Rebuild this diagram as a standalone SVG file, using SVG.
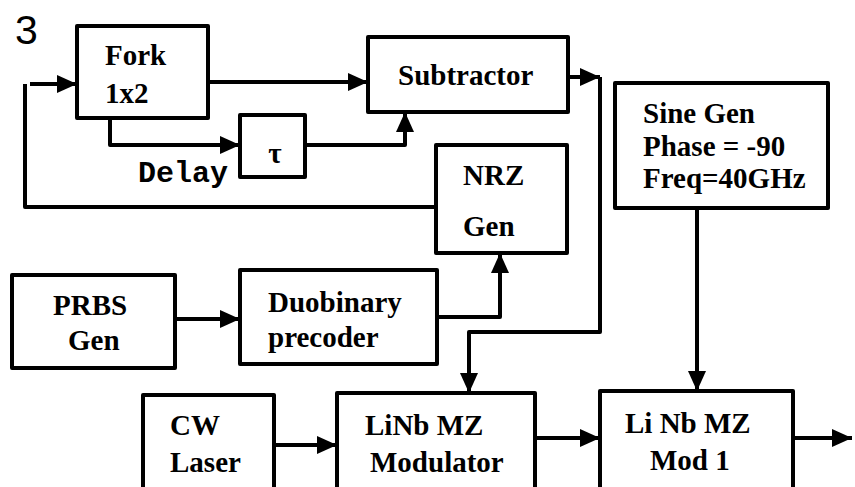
<svg xmlns="http://www.w3.org/2000/svg" width="855" height="487" viewBox="0 0 855 487">
<style>
.box{fill:#fff;stroke:#000;stroke-width:4;stroke-linejoin:round}
.ln{fill:none;stroke:#000;stroke-width:4;stroke-linejoin:round}
.t{font-family:'Liberation Serif','Times New Roman','DejaVu Serif','Noto Serif',serif;font-weight:bold;font-size:29px;fill:#000}
.m{font-family:'Liberation Mono','DejaVu Sans Mono',monospace;font-weight:bold;font-size:30px;fill:#000}
</style>
<defs>
<marker id="ah" markerUnits="userSpaceOnUse" markerWidth="22" markerHeight="20" refX="20" refY="10" orient="auto">
<path d="M0,1 L20,10 L0,19 Z" fill="#000"/>
</marker>
</defs>
<text x="15" y="44" font-family="Liberation Sans, sans-serif" font-size="41" fill="#000">3</text>
<g id="connectors">
<path class="ln" d="M30,84 H77" marker-end="url(#ah)"/>
<path class="ln" d="M208,82 H368" marker-end="url(#ah)"/>
<path class="ln" d="M110,118 V145 H240" marker-end="url(#ah)"/>
<path class="ln" d="M305,145 H405 V112" marker-end="url(#ah)"/>
<path class="ln" d="M568,77 H600" marker-end="url(#ah)"/>
<path class="ln" d="M600,77 V332 H469 V393" marker-end="url(#ah)"/>
<path class="ln" d="M436,207 H25 V84"/>
<path class="ln" d="M175,319 H240" marker-end="url(#ah)"/>
<path class="ln" d="M437,317 H500 V253" marker-end="url(#ah)"/>
<path class="ln" d="M697,208 V391" marker-end="url(#ah)"/>
<path class="ln" d="M274,445 H337" marker-end="url(#ah)"/>
<path class="ln" d="M535,438 H600" marker-end="url(#ah)"/>
<path class="ln" d="M793,438 H852" marker-end="url(#ah)"/>
<text class="m" x="138" y="182">Delay</text>
</g>
<g id="fork">
<rect class="box" x="77" y="26" width="131" height="92"/>
<text class="t" x="105" y="65">Fork</text>
<text class="t" x="105" y="103">1x2</text>
</g>
<g id="tau">
<rect class="box" x="240" y="115" width="65" height="62"/>
<text class="t" x="275" y="163" text-anchor="middle" font-size="22">τ</text>
</g>
<g id="subtractor">
<rect class="box" x="368" y="37" width="200" height="75"/>
<text class="t" x="398" y="85">Subtractor</text>
</g>
<g id="sinegen">
<rect class="box" x="615" y="83" width="213" height="125"/>
<text class="t" x="643" y="123">Sine Gen</text>
<text class="t" x="643" y="156">Phase = -90</text>
<text class="t" x="643" y="188">Freq=40GHz</text>
</g>
<g id="nrzgen">
<rect class="box" x="436" y="145" width="131" height="108"/>
<text class="t" x="463" y="185">NRZ</text>
<text class="t" x="463" y="236">Gen</text>
</g>
<g id="prbs">
<rect class="box" x="12" y="275" width="163" height="93"/>
<text class="t" x="53" y="315">PRBS</text>
<text class="t" x="68" y="350">Gen</text>
</g>
<g id="duobinary">
<rect class="box" x="240" y="270" width="197" height="94"/>
<text class="t" x="268" y="312">Duobinary</text>
<text class="t" x="268" y="347">precoder</text>
</g>
<g id="cwlaser">
<rect class="box" x="143" y="395" width="131" height="100"/>
<text class="t" x="170" y="435">CW</text>
<text class="t" x="170" y="472">Laser</text>
</g>
<g id="linbmod">
<rect class="box" x="337" y="393" width="198" height="102"/>
<text class="t" x="365" y="435">LiNb MZ</text>
<text class="t" x="370" y="472">Modulator</text>
</g>
<g id="linbmod1">
<rect class="box" x="600" y="391" width="193" height="104"/>
<text class="t" x="625" y="433">Li Nb MZ</text>
<text class="t" x="650" y="470">Mod 1</text>
</g>
</svg>
